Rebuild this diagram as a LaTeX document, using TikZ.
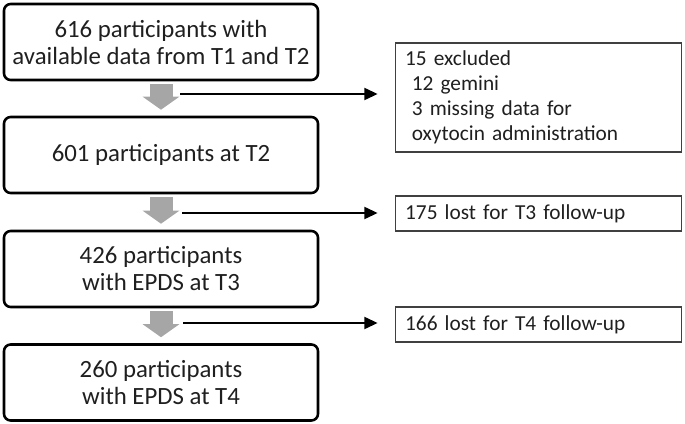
\documentclass[tikz,border=0pt]{standalone}
\usepackage{fontspec}
\setmainfont{Carlito}
\usetikzlibrary{arrows.meta, positioning}

\tikzset{
  mainbox/.style={draw, line width=1.9pt, rounded corners=5pt, minimum width=235.5pt, minimum height=57pt, inner xsep=2pt, align=center, text=black!88, font=\fontsize{18.6}{20.25}\selectfont},
  sidebox/.style={draw=black!75, line width=0.8pt, text width=200pt, inner xsep=7.5pt, inner ysep=2pt, align=left, minimum height=26.25pt, text=black!88, font=\fontsize{16}{18.75}\selectfont},
  grayarrow/.style={draw=black!35, line width=17.25pt, -{Triangle[length=9.75pt, width=27pt]}, shorten <=2.25pt, shorten >=4.5pt},
  outarrow/.style={line width=1.6pt, -{Triangle[length=10pt, width=9pt]}, shorten >=12.75pt}
}

\begin{document}
\begin{tikzpicture}[x=0.75pt, y=-0.75pt]
    \useasboundingbox (0,0) rectangle (685,424);
    % main flow
    \node [mainbox] (t1t2) at (161,42) {616 participants with\\available data from T1 and T2};
    \node [mainbox] (t2) at (161,155) {601 participants at T2};
    \node [mainbox] (t3) at (161,269) {426 participants\\with EPDS at T3};
    \node [mainbox] (t4) at (161,382.5) {260 participants\\with EPDS at T4};
    \draw [grayarrow] (t1t2) -- (t2);
    \draw [grayarrow] (t2) -- (t3);
    \draw [grayarrow] (t3) -- (t4);
    % drop-outs
    \node [sidebox, minimum height=81.75pt] (excluded) at (538.5,97.5) {15 excluded\\\hspace*{5pt}12 gemini\\\hspace*{5pt}3 missing data for\\\hspace*{5pt}oxytocin administration};
    \node [sidebox] (lostT3) at (538.5,213.5) {175 lost for T3 follow-up};
    \node [sidebox] (lostT4) at (538.5,324.5) {166 lost for T4 follow-up};
    \coordinate (out1) at (180,94);
    \coordinate (out2) at (182,213);
    \coordinate (out3) at (183,323);
    \draw [outarrow] (out1) -- (out1 -| excluded.west);
    \draw [outarrow] (out2) -- (out2 -| lostT3.west);
    \draw [outarrow] (out3) -- (out3 -| lostT4.west);
  \end{tikzpicture}
\end{document}
